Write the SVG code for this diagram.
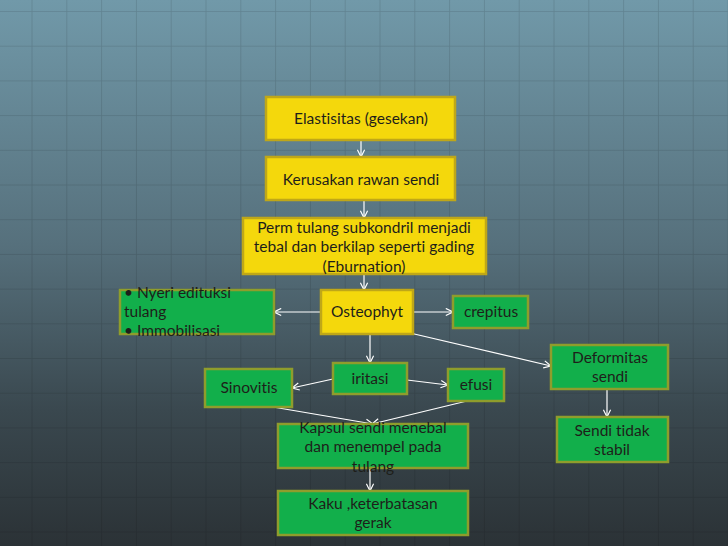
<svg xmlns="http://www.w3.org/2000/svg" width="728" height="546" viewBox="0 0 728 546">
<defs>
<linearGradient id="bg" x1="0" y1="0" x2="0" y2="1">
<stop offset="0" stop-color="#7199a9"/>
<stop offset="0.45" stop-color="#56707c"/>
<stop offset="0.75" stop-color="#3a484f"/>
<stop offset="1" stop-color="#2b3236"/>
</linearGradient>
<pattern id="grid" x="-2.3" y="-22.7" width="34.8" height="34.7" patternUnits="userSpaceOnUse">
<path d="M34.8 0 V34.7 M0 34.7 H34.8" stroke="#000" stroke-opacity="0.13" stroke-width="1.6" fill="none"/>
</pattern>
<marker id="ah" viewBox="0 0 10 10" refX="9" refY="5" markerWidth="9" markerHeight="9" markerUnits="userSpaceOnUse" orient="auto">
<path d="M1 1 L9 5 L1 9" fill="none" stroke="#fff" stroke-width="1.3"/>
</marker>
<style>
.y{fill:#f4d80c;stroke:#bfa718;stroke-width:2.5}
.g{fill:#12af4b;stroke:#8f9d2c;stroke-width:2.5}
text{font-family:Lato,"Open Sans","Liberation Sans",sans-serif;font-size:15.5px;fill:#1e1e1a;text-anchor:middle;font-variant-ligatures:none}
.l{text-anchor:start}
.c{stroke:#fff;stroke-width:1.2;fill:none;marker-end:url(#ah)}
</style>
</defs>
<rect width="728" height="546" fill="url(#bg)"/>
<rect width="728" height="546" fill="url(#grid)"/>
<g id="connectors">
<line class="c" x1="361" y1="141" x2="361" y2="157"/>
<line class="c" x1="364" y1="201" x2="364" y2="218"/>
<line class="c" x1="364" y1="275" x2="364" y2="290"/>
<line class="c" x1="321" y1="312" x2="274" y2="312"/>
<line class="c" x1="413" y1="312" x2="453" y2="312"/>
<line class="c" x1="370" y1="335" x2="370" y2="363"/>
<line class="c" x1="410" y1="333" x2="551" y2="366"/>
<line class="c" x1="333" y1="379" x2="292" y2="388"/>
<line class="c" x1="407" y1="380" x2="448" y2="385"/>
<line class="c" x1="267" y1="406" x2="373" y2="424"/>
<line class="c" x1="467" y1="401" x2="372" y2="424"/>
<line class="c" x1="370" y1="468" x2="370" y2="491"/>
<line class="c" x1="607" y1="389" x2="607" y2="417"/>
</g>
<g id="elastisitas"><rect class="y" x="266" y="97" width="189" height="43"/><text x="361" y="124">Elastisitas (gesekan)</text></g>
<g id="kerusakan"><rect class="y" x="266" y="157" width="189" height="43"/><text x="361" y="185">Kerusakan rawan sendi</text></g>
<g id="perm"><rect class="y" x="243" y="218" width="243" height="56"/><text x="364" y="233">Perm tulang subkondril menjadi</text><text x="364" y="252">tebal dan berkilap seperti gading</text><text x="364" y="272">(Eburnation)</text></g>
<g id="osteophyt"><rect class="y" x="321" y="290" width="92" height="44"/><text x="367" y="317">Osteophyt</text></g>
<g id="nyeri"><rect class="g" x="120" y="290" width="154" height="44"/><text class="l" x="124" y="298">• Nyeri edituksi</text><text class="l" x="124" y="317">tulang</text><text class="l" x="124" y="336">• Immobilisasi</text></g>
<g id="crepitus"><rect class="g" x="453" y="296" width="75" height="32"/><text x="491" y="317">crepitus</text></g>
<g id="iritasi"><rect class="g" x="333" y="363" width="74" height="31"/><text x="370" y="384">iritasi</text></g>
<g id="sinovitis"><rect class="g" x="205" y="369" width="87" height="38"/><text x="249" y="393">Sinovitis</text></g>
<g id="efusi"><rect class="g" x="448" y="369" width="56" height="32"/><text x="476" y="390">efusi</text></g>
<g id="deformitas"><rect class="g" x="551" y="345" width="117" height="44"/><text x="610" y="363">Deformitas</text><text x="610" y="382">sendi</text></g>
<g id="sendi-tidak-stabil"><rect class="g" x="557" y="417" width="111" height="45"/><text x="612" y="436">Sendi tidak</text><text x="612" y="455">stabil</text></g>
<g id="kapsul"><rect class="g" x="278" y="424" width="190" height="44"/><text x="373" y="433">Kapsul sendi menebal</text><text x="373" y="452">dan menempel pada</text><text x="373" y="472">tulang</text></g>
<g id="kaku"><rect class="g" x="278" y="491" width="190" height="44"/><text x="373" y="509">Kaku ,keterbatasan</text><text x="373" y="528">gerak</text></g>
</svg>
